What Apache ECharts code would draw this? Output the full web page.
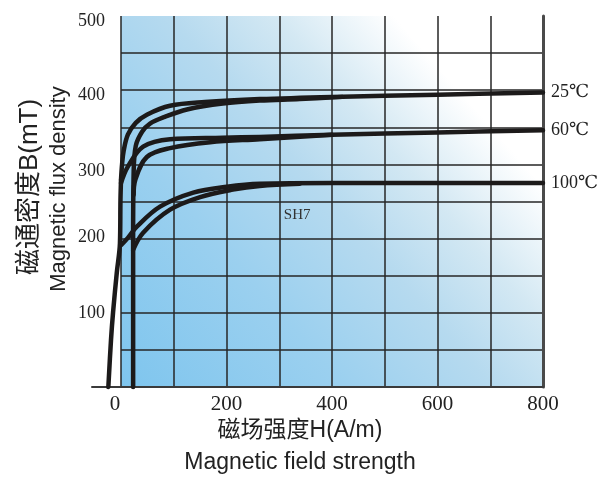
<!DOCTYPE html>
<html>
<head>
<meta charset="utf-8">
<script src="https://cdn.jsdelivr.net/npm/echarts@6/dist/echarts.min.js"></script>
<style>
  html, body { margin: 0; padding: 0; background: #ffffff; }
  #chart { width: 601px; height: 477px; }
</style>
</head>
<body>
<div id="chart"></div>
<script>
// B-H curves of SH7 ferrite at three temperatures (H in A/m, B in mT)
const xTicks = [0, 200, 400, 600, 800];
const yTicks = [100, 200, 300, 400, 500];
const tempLabels = ['25℃', '60℃', '100℃'];

// shared steep part of the descending branches, on the negative-H side
const hTail = [-24, -19, -15, -8, -2, -1, 0];
const bTail = [0, 63, 101, 154, 194, 252, 279];

// 25 ℃ : descending branch (ends at H = 800) and ascending branch
const h25Down = [0, 2, 5, 13, 28, 49, 93, 159, 263, 400, 600, 800];
const b25Down = [279, 300, 318, 340, 356, 367, 379, 384, 388, 391, 394, 397];
const h25Up = [23, 23, 24, 28, 40, 55, 83, 125, 193, 263, 339, 420];
const b25Up = [0, 200, 290, 325, 344, 355, 364, 374, 382, 386, 388, 391];

// 60 ℃
const h60Down = [0, 13, 42, 93, 193, 263, 400, 600, 800];
const b60Down = [275, 297, 324, 334, 336, 337, 340, 343, 346];
const h60Up = [24, 27, 49, 93, 169, 263, 400];
const b60Up = [259, 279, 310, 322, 330, 334, 340];

// 100 ℃
const h100Down = [0, 13, 30, 74, 137, 201, 263, 400, 600, 800];
const b100Down = [191, 201, 216, 243, 262, 270, 274, 275, 275, 275];
const h100Up = [23, 42, 93, 150, 212, 263, 339];
const b100Up = [185, 208, 239, 256, 266, 271, 274];

// grade name annotation position (H, B)
const gradeName = 'SH7';
const gradePos = [334, 232];

const zip = (hs, bs) => hs.map((h, i) => [h, bs[i]]);

const SERIF = '"Liberation Serif", "DejaVu Serif", serif';
const SANS = '"Liberation Sans", "Noto Sans CJK SC", sans-serif';
const CURVE = '#1c1a1a';

function branch(name, hs, bs, endText, axisIdx) {
  const s = {
    name: name,
    type: 'line',
    xAxisIndex: axisIdx || 0,
    yAxisIndex: axisIdx ? 2 : 0,
    data: zip(hs, bs),
    smooth: 0.35,
    symbol: 'none',
    clip: false,
    silent: true,
    lineStyle: { color: CURVE, width: 4.5, cap: 'round', join: 'round' },
    z: 5
  };
  if (endText) {
    s.endLabel = {
      show: true,
      formatter: endText,
      fontFamily: SERIF,
      fontSize: 18,
      color: '#222',
      distance: 8
    };
  }
  return s;
}

const chart = echarts.init(document.getElementById('chart'), null, { renderer: 'canvas' });

const series = [
  branch('25 down', h25Down, b25Down, tempLabels[0]),
  branch('25 up', h25Up, b25Up),
  branch('60 down', h60Down, b60Down, tempLabels[1]),
  branch('60 up', h60Up, b60Up),
  branch('100 down', h100Down, b100Down, tempLabels[2]),
  branch('100 up', h100Up, b100Up),
  branch('tail', hTail, bTail, null, 1)
];
series[0].markPoint = {
  symbol: 'circle',
  symbolSize: 0,
  silent: true,
  data: [{ coord: gradePos }],
  label: {
    show: true,
    position: 'inside',
    formatter: gradeName,
    fontFamily: SERIF,
    fontSize: 15,
    color: '#333'
  }
};

// tick label styles: the printed scale sits a little below some grid lines
const yLabelRich = {
  t500: { padding: [10, 0, 0, 0] },
  t400: { padding: [10, 0, 0, 0] },
  t300: { padding: [14, 0, 0, 0] },
  t200: { padding: [0, 0, 2, 0] },
  t100: { padding: [0, 0, 0, 0] }
};
Object.keys(yLabelRich).forEach(k => {
  Object.assign(yLabelRich[k], { fontFamily: SERIF, fontSize: 18, color: '#222' });
});

chart.setOption({
  animation: false,
  grid: [
    {
      left: 121, right: 58, top: 16, bottom: 90,
      show: true,
      borderWidth: 0,
      backgroundColor: new echarts.graphic.LinearGradient(0, 1, 1, 0, [
        { offset: 0, color: '#7ec5ee' },
        { offset: 0.3, color: '#9bd0ef' },
        { offset: 0.5, color: '#b6daef' },
        { offset: 0.64, color: '#d3e8f3' },
        { offset: 0.8, color: '#ffffff' },
        { offset: 1, color: '#ffffff' }
      ])
    },
    // negative-H strip left of the plot, same scale as the main grid
    { left: 92, width: 29, top: 16, bottom: 90, show: false }
  ],
  xAxis: [
    {
      type: 'value', gridIndex: 0,
      min: 0, max: 800, interval: 100,
      axisLine: { show: true, onZero: false, lineStyle: { color: '#3a3a3a', width: 2 } },
      axisTick: { show: false },
      splitLine: { show: true, showMaxLine: false, lineStyle: { color: '#262626', width: 1.5 } },
      axisLabel: {
        margin: 7,
        fontFamily: SERIF,
        fontSize: 21,
        color: '#222',
        formatter: v => (v === 0 ? '{z|0}' : (xTicks.indexOf(v) >= 0 ? String(v) : '')),
        rich: { z: { fontFamily: SERIF, fontSize: 21, color: '#222', padding: [0, 12, 0, 0] } }
      }
    },
    {
      type: 'value', gridIndex: 1, min: -55, max: 0,
      axisLine: { show: true, onZero: false, lineStyle: { color: '#3a3a3a', width: 2 } },
      axisTick: { show: false }, axisLabel: { show: false }, splitLine: { show: false }
    }
  ],
  yAxis: [
    {
      type: 'value', gridIndex: 0,
      min: 0, max: 500, interval: 50,
      axisLine: { show: false },
      axisTick: { show: false },
      splitLine: { show: true, showMaxLine: false, lineStyle: { color: '#262626', width: 1.5 } },
      axisLabel: {
        margin: 16,
        fontFamily: SERIF,
        fontSize: 18,
        color: '#222',
        verticalAlign: 'middle',
        formatter: v => (yTicks.indexOf(v) >= 0 ? '{t' + v + '|' + v + '}' : ''),
        rich: yLabelRich
      }
    },
    {
      type: 'value', gridIndex: 0, position: 'right',
      min: 0, max: 500,
      axisLine: { show: true, lineStyle: { color: '#4a4a4a', width: 3 } },
      axisTick: { show: false }, axisLabel: { show: false }, splitLine: { show: false }
    },
    {
      type: 'value', gridIndex: 1, show: false, min: 0, max: 500
    }
  ],
  graphic: [
    {
      type: 'text', x: 300, y: 431, silent: true,
      style: { text: '磁场强度H(A/m)', font: '23px ' + SANS, fill: '#222', align: 'center', verticalAlign: 'middle' }
    },
    {
      type: 'text', x: 300, y: 463, silent: true,
      style: { text: 'Magnetic field strength', font: '23px ' + SANS, fill: '#222', align: 'center', verticalAlign: 'middle' }
    },
    {
      type: 'text', x: 30, y: 187, rotation: Math.PI / 2, silent: true,
      style: { text: '磁通密度B(mT)', font: '26px ' + SANS, fill: '#222', align: 'center', verticalAlign: 'middle' }
    },
    {
      type: 'text', x: 59, y: 189, rotation: Math.PI / 2, silent: true,
      style: { text: 'Magnetic flux density', font: '22px ' + SANS, fill: '#222', align: 'center', verticalAlign: 'middle' }
    }
  ],
  series: series
});
</script>
</body>
</html>
